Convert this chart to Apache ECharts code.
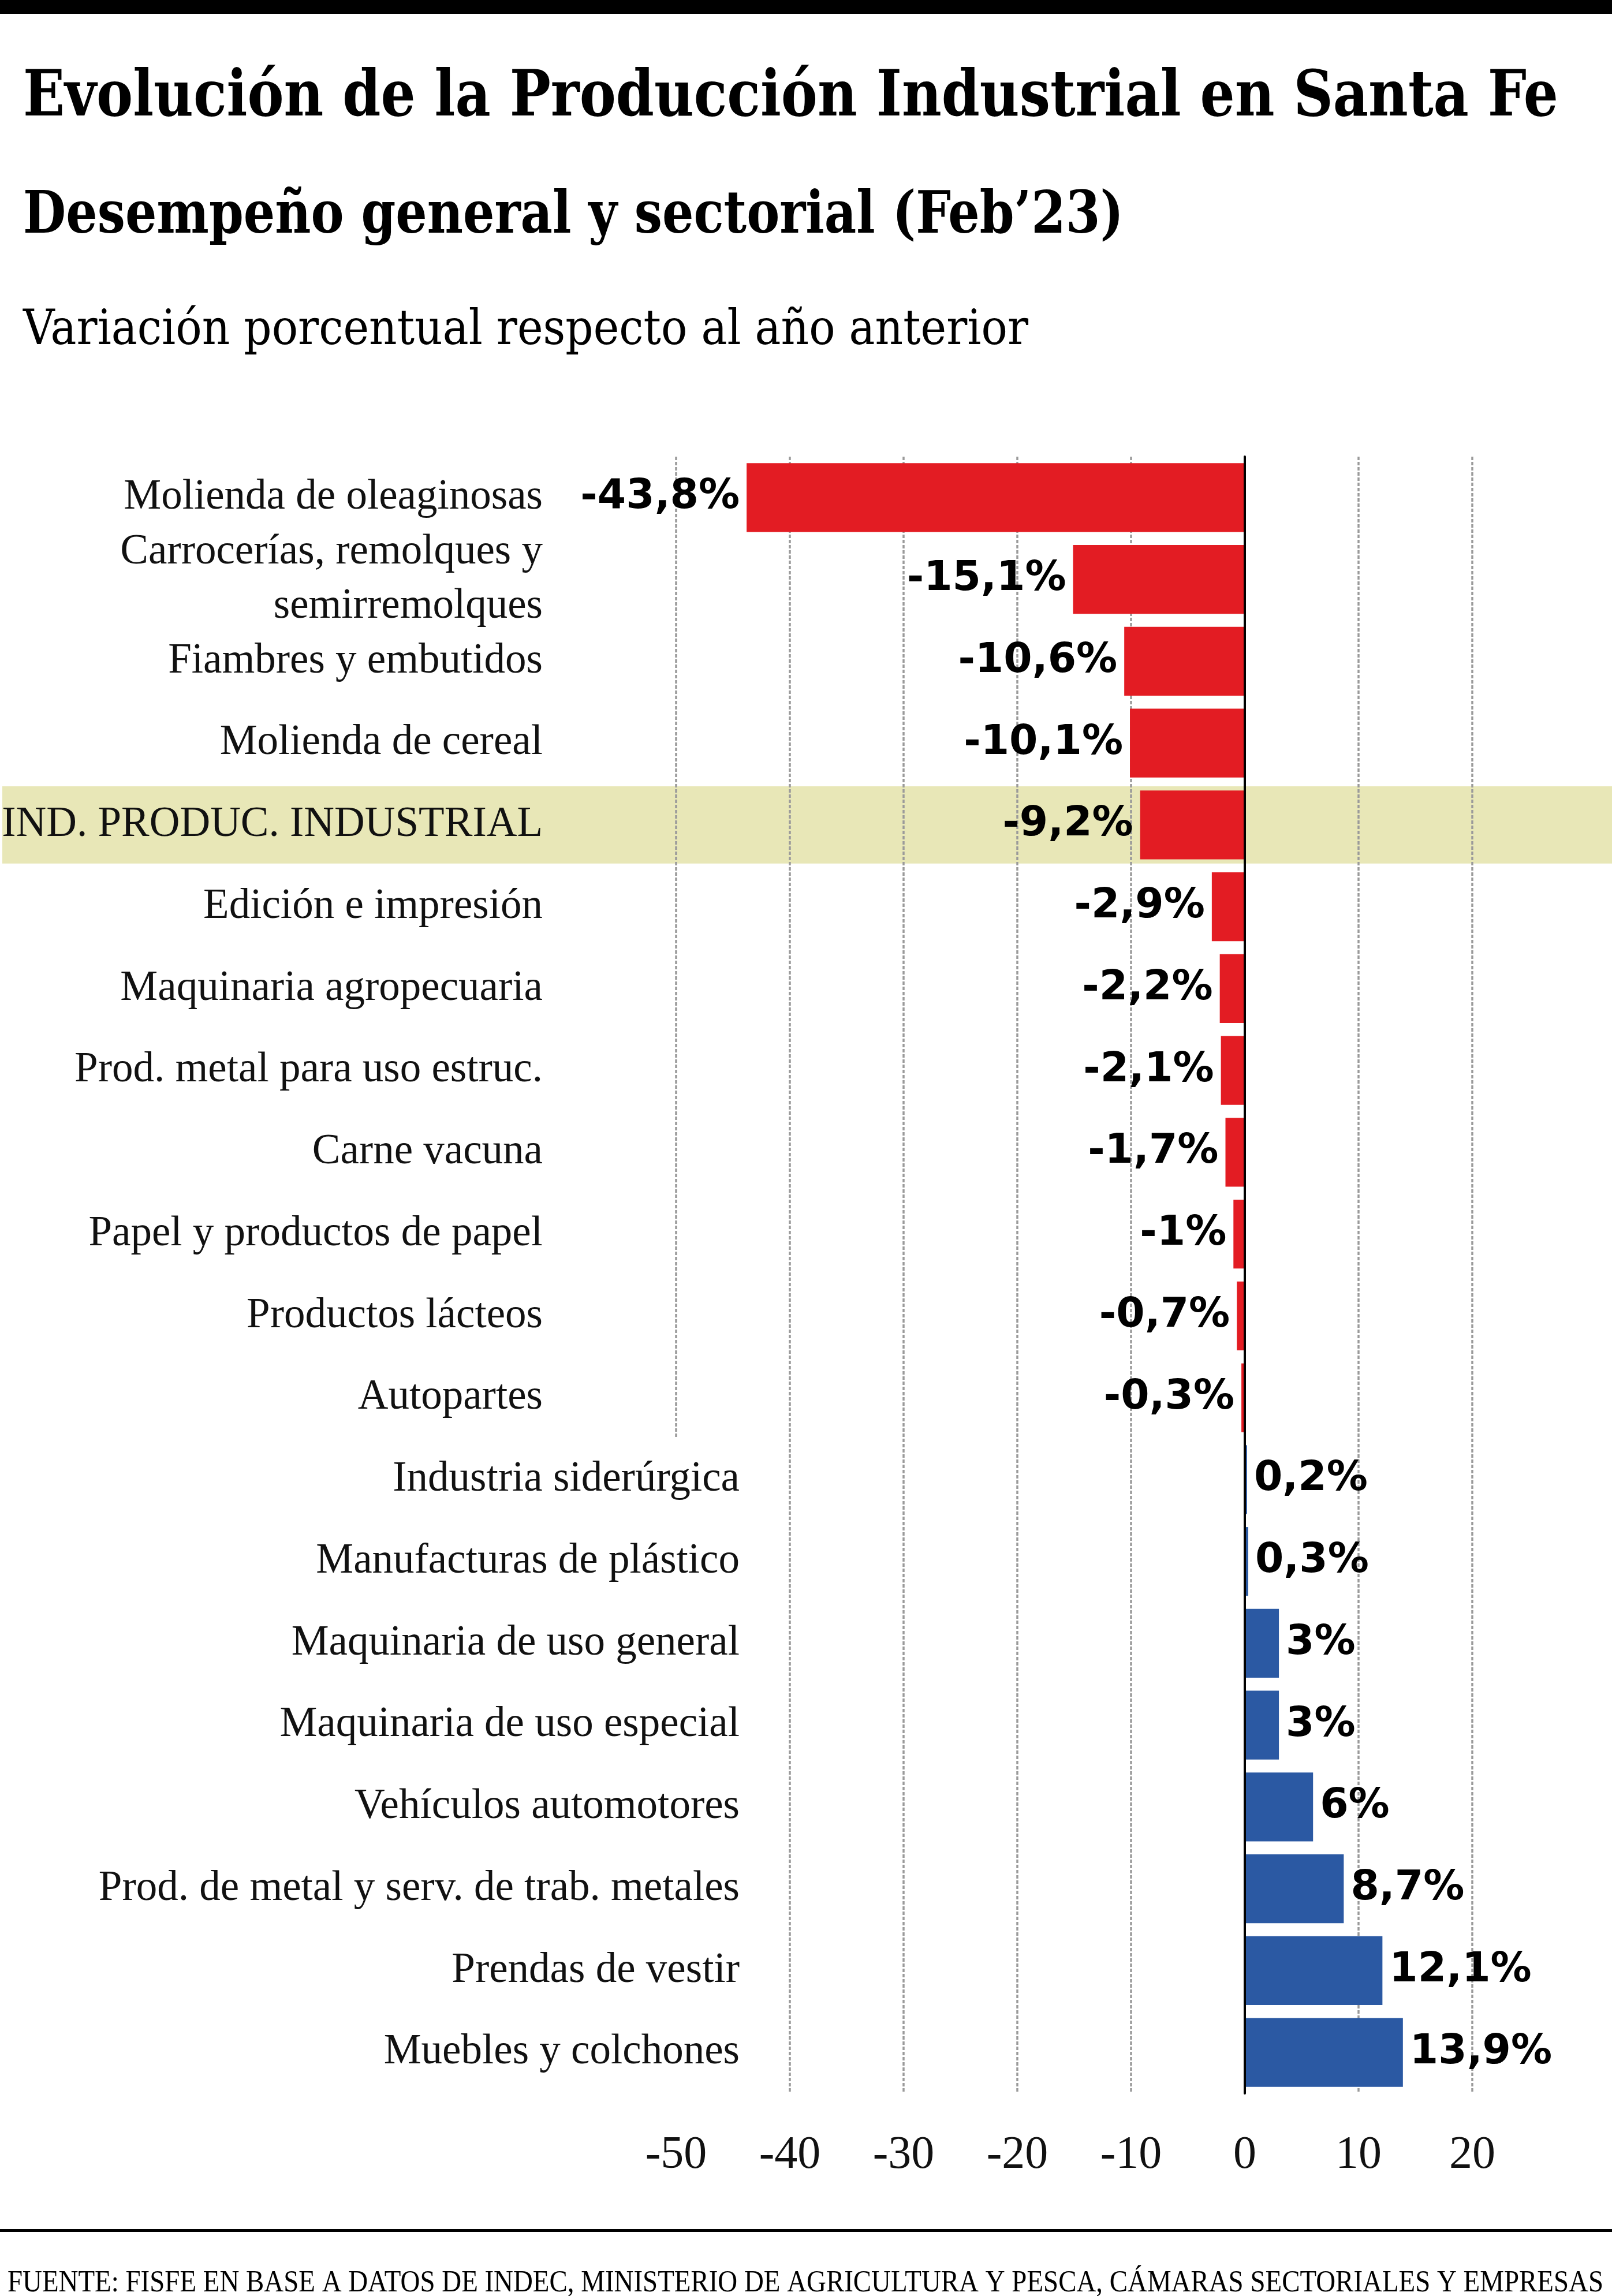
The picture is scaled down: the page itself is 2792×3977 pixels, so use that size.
<!DOCTYPE html>
<html>
<head>
<meta charset="utf-8">
<title>Producción Industrial Santa Fe</title>
<script src="https://cdn.jsdelivr.net/npm/echarts@6/dist/echarts.min.js"></script>
<style>
html, body { margin: 0; padding: 0; background: #fff; }
#main { width: 2792px; height: 3977px; }
</style>
</head>
<body>
<div id="main"></div>
<script>
// datos (variación % interanual, feb'23)
var sectores = [
	'Molienda de oleaginosas',
	'Carrocerías, remolques y\nsemirremolques',
	'Fiambres y embutidos',
	'Molienda de cereal',
	'IND. PRODUC. INDUSTRIAL',
	'Edición e impresión',
	'Maquinaria agropecuaria',
	'Prod. metal para uso estruc.',
	'Carne vacuna',
	'Papel y productos de papel',
	'Productos lácteos',
	'Autopartes',
	'Industria siderúrgica',
	'Manufacturas de plástico',
	'Maquinaria de uso general',
	'Maquinaria de uso especial',
	'Vehículos automotores',
	'Prod. de metal y serv. de trab. metales',
	'Prendas de vestir',
	'Muebles y colchones'
];
var variacion = [-43.8, -15.1, -10.6, -10.1, -9.2, -2.9, -2.2, -2.1, -1.7, -1, -0.7, -0.3,
	0.2, 0.3, 3, 3, 6, 8.7, 12.1, 13.9];
var ticksX = [-50, -40, -30, -20, -10, 0, 10, 20];
var destacado = 'IND. PRODUC. INDUSTRIAL';

var titulo = 'Evolución de la Producción Industrial en Santa Fe';
var subtitulo = 'Desempeño general y sectorial (Feb’23)';
var bajada = 'Variación porcentual respecto al año anterior';
var fuente = 'FUENTE: FISFE EN BASE A DATOS DE INDEC, MINISTERIO DE AGRICULTURA Y PESCA, CÁMARAS SECTORIALES Y EMPRESAS';

var rojo = '#e31c23';
var azul = '#2b59a3';

// escala horizontal para "condensar" los titulos al ancho del original
var ctx = document.createElement('canvas').getContext('2d');
function ajuste(texto, font, ancho) {
	ctx.font = font;
	return ancho / ctx.measureText(texto).width;
}

function texto(id, str, font, x, y, ancho) {
	return {
		id: id, type: 'text', x: x, y: y, z: 10,
		scaleX: ajuste(str, font, ancho),
		style: { text: str, font: font, fill: '#000', align: 'left', verticalAlign: 'middle' }
	};
}

var fTitulo = 'bold 110px "DejaVu Serif"';
var fSub = 'bold 101px "DejaVu Serif"';
var fBajada = '85px "DejaVu Serif"';
var fFuente = '53px "Liberation Serif"';

var barras = variacion.map(function (v) {
	return {
		value: v,
		itemStyle: { color: v < 0 ? rojo : azul },
		label: { position: v < 0 ? 'left' : 'right' }
	};
});

var myChart = echarts.init(document.getElementById('main'));
var option = {
	backgroundColor: '#fff',
	animation: false,
	grid: { left: 1171, right: 242, top: 791, bottom: 351, outerBoundsMode: 'none', containLabel: false },
	xAxis: {
		type: 'value',
		min: ticksX[0],
		max: ticksX[ticksX.length - 1],
		interval: 10,
		axisLine: { show: false },
		axisTick: { show: false },
		axisLabel: {
			margin: 68,
			hideOverlap: false,
			showMinLabel: true,
			showMaxLabel: true,
			fontFamily: 'Liberation Serif',
			fontSize: 80,
			color: '#111'
		},
		splitLine: {
			show: true,
			lineStyle: { color: '#9a9a9a', width: 3.5, type: [6, 3] }
		}
	},
	yAxis: {
		type: 'category',
		inverse: true,
		data: sectores,
		z: 3,
		axisLine: { show: true, onZero: true, lineStyle: { color: '#000', width: 4 } },
		axisTick: { show: false },
		axisLabel: {
			interval: 0,
			margin: -110,
			formatter: function (name, idx) {
				var tipo = variacion[idx] < 0 ? 'arriba' : 'abajo';
				return name.split('\n').map(function (l) {
					return '{' + tipo + '|' + l + '}';
				}).join('\n');
			},
			rich: {
				arriba: {
					fontFamily: 'Liberation Serif', fontSize: 73, color: '#111',
					lineHeight: 94, padding: [0, 341, 0, 0]
				},
				abajo: {
					fontFamily: 'Liberation Serif', fontSize: 73, color: '#111',
					backgroundColor: '#fff', padding: [36, 0, 36, 0]
				}
			}
		}
	},
	series: [{
		type: 'bar',
		data: barras,
		barCategoryGap: '16%',
		label: {
			show: true,
			distance: 12,
			fontFamily: 'DejaVu Sans',
			fontWeight: 'bold',
			fontSize: 71,
			color: '#000',
			formatter: function (p) {
				return String(p.value).replace('.', ',') + '%';
			}
		}
	}],
	graphic: [
		{ id: 'barraSup', type: 'rect', shape: { x: 0, y: 0, width: 2792, height: 24 }, style: { fill: '#000' } },
		texto('titulo', titulo, fTitulo, 40, 171, 2659),
		texto('sub', subtitulo, fSub, 40, 377, 1906),
		texto('bajada', bajada, fBajada, 40, 574, 1741),
		{ id: 'regla', type: 'rect', shape: { x: 0, y: 3861, width: 2792, height: 5 }, style: { fill: '#000' } },
		texto('fuente', fuente, fFuente, 13, 3955, 2764)
	]
};
myChart.setOption(option);

// franja de resaltado del índice general, ubicada con la escala del eje
var yc = myChart.convertToPixel({ yAxisIndex: 0 }, destacado);
var paso = myChart.convertToPixel({ yAxisIndex: 0 }, sectores[5]) - yc;
var alto = paso * 0.945;
myChart.setOption({
	graphic: [{
		id: 'franja', type: 'rect', z: -1,
		shape: { x: 4, y: yc - alto / 2, width: 2788, height: alto },
		style: { fill: '#e8e7b7' }
	}]
});
</script>
</body>
</html>
